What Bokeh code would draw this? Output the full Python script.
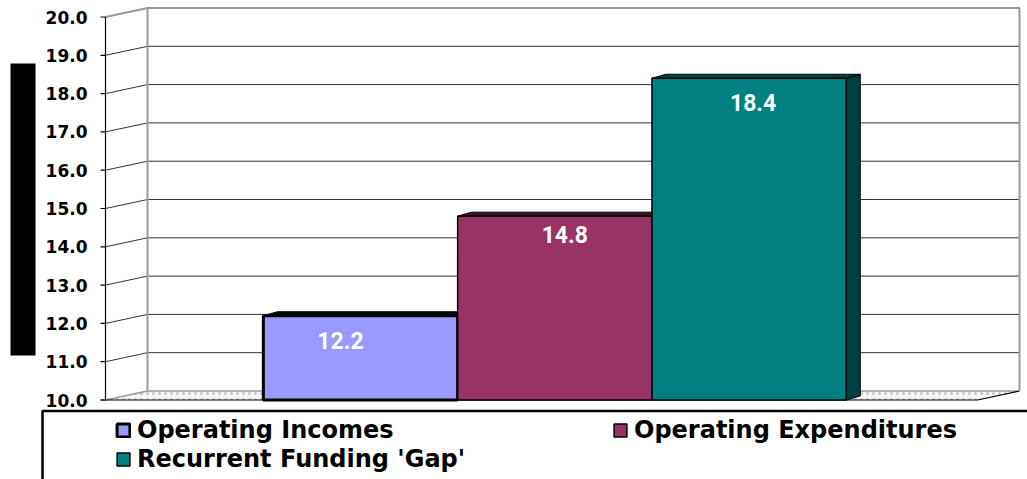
from bokeh.plotting import figure
from bokeh.models import Range1d, Legend, LegendItem
from bokeh.core.properties import value
from bokeh.embed import file_html
from bokeh.resources import INLINE

# ---------------- data ----------------
categories = ["Operating Incomes", "Operating Expenditures", "Recurrent Funding 'Gap'"]
values = [12.2, 14.8, 18.4]
value_labels = ["12.2", "14.8", "18.4"]
y_ticks = [10, 11, 12, 13, 14, 15, 16, 17, 18, 19, 20]
y_tick_labels = ["10.0", "11.0", "12.0", "13.0", "14.0", "15.0",
                 "16.0", "17.0", "18.0", "19.0", "20.0"]

# ---------------- styles ----------------
front_colors = ["#9999FF", "#993366", "#008080"]
top_colors = ["#000000", "#3a1226", "#004545"]
side_colors = ["#1a1a4d", "#3a1226", "#003f3f"]
outline_widths = [3, 1.5, 1.5]
label_dx = [-20, 10, 4]     # px
label_dy = [25, 18, 24]     # px (down)

W, H = 1027, 479
CAT0_PX, CAT_PX = 360.0, 194.3     # pixel x of first category centre, px per category
BASE_PX, UNIT_PX = 399.5, 38.3     # pixel y of axis base (front), px per value unit
BASE = y_ticks[0]


def xd(px):
    return 1 + (px - CAT0_PX) / CAT_PX


def yd(py):
    return BASE + (BASE_PX - py) / UNIT_PX


def dxd(dpx):
    return dpx / CAT_PX


def dyd(dpx):
    return dpx / UNIT_PX


x_pos = list(range(1, len(categories) + 1))

p = figure(width=W, height=H, output_backend="svg", toolbar_location=None,
           x_range=Range1d(xd(0), xd(W)), y_range=Range1d(yd(H), yd(0)),
           min_border=0, x_axis_location=None, y_axis_location=None)
p.grid.visible = False
p.outline_line_color = None
p.background_fill_color = "white"

# 3-D box geometry
FL, BL, BR, FR = xd(105), xd(147), xd(1019), xd(977)
DV = dyd(9)
TOP = y_ticks[-1]

# floor
p.patch([FL, BL, BR, FR], [BASE, BASE + DV, BASE + DV, BASE],
        fill_color="#f6f6f6", hatch_pattern=".", hatch_color="#c4c4c4",
        hatch_scale=6, line_color=None)
p.line([FL, BL, BR], [BASE, BASE + DV, BASE + DV], line_color="#999999", line_width=1.5)
p.line([xd(100), FR, BR], [BASE, BASE, BASE + DV], line_color="black", line_width=1.2)

# back wall + left wall grid lines
inner = [t for t in y_ticks if BASE < t < TOP]
p.segment(x0=[BL] * len(inner), y0=[t + DV for t in inner],
          x1=[BR] * len(inner), y1=[t + DV for t in inner],
          line_color="#333333", line_width=1)
p.segment(x0=[FL] * len(inner), y0=inner,
          x1=[BL] * len(inner), y1=[t + DV for t in inner],
          line_color="#333333", line_width=1)
# wall edges
p.line([FL, BL, BR, BR], [TOP, TOP + DV, TOP + DV, BASE + DV],
       line_color="#999999", line_width=2)
p.line([BL, BL], [BASE + DV, TOP + DV], line_color="#999999", line_width=2)
# front value axis
p.line([FL, FL], [BASE, TOP], line_color="black", line_width=1.2)
p.segment(x0=[FL] * len(y_ticks), y0=y_ticks, x1=[FL - dxd(5)] * len(y_ticks), y1=y_ticks,
          line_color="black", line_width=1.2)
p.text(x=[FL] * len(y_ticks), y=y_ticks, text=y_tick_labels, x_offset=-18,
       text_align="right", text_baseline="middle",
       text_font=value("DejaVu Sans"), text_font_style="bold",
       text_font_size="17px", text_color="black")

# black title block on the left
p.quad(left=[xd(10)], right=[xd(35)], top=[yd(63)], bottom=[yd(355)],
       fill_color="black", line_color=None)

# bars (pseudo 3-D)
BDX, BDV = dxd(14), dyd(4)
renderers = []
for i, v in enumerate(values):
    x0 = x_pos[i] - 0.5
    x1 = x_pos[i] + 0.5
    p.patch([x1, x1, x1 + BDX, x1 + BDX], [BASE, v, v + BDV, BASE + BDV],
            fill_color=side_colors[i], line_color="black", line_width=1)
    p.patch([x0, x0 + BDX, x1 + BDX, x1], [v, v + BDV, v + BDV, v],
            fill_color=top_colors[i], line_color="black", line_width=1)
    r = p.vbar(x=[x_pos[i]], width=1.0, bottom=BASE, top=[v],
               fill_color=front_colors[i], line_color="black",
               line_width=outline_widths[i])
    renderers.append(r)

p.text(x=x_pos, y=values, text=value_labels, x_offset=label_dx, y_offset=label_dy,
       text_align="center", text_baseline="middle",
       text_font=value("Roboto"), text_font_style="bold",
       text_font_size="23px", text_color="white")

# legend box
p.quad(left=[xd(42)], right=[xd(W + 20)], top=[yd(410.5)], bottom=[yd(H + 20)],
       fill_color="white", line_color="black", line_width=2.5)

legend = Legend(items=[LegendItem(label=categories[i], renderers=[renderers[i]])
                       for i in range(len(categories))],
                location=(115, 6), orientation="horizontal", ncols=2,
                padding=0, margin=0, spacing=1,
                glyph_width=16, glyph_height=16, label_standoff=6,
                label_width=474, label_height=28,
                label_text_font="DejaVu Sans", label_text_font_style="bold",
                label_text_font_size="24px", label_text_color="black",
                border_line_color=None, background_fill_alpha=0)
p.add_layout(legend)

open("out.html", "w").write(file_html(p, INLINE))
